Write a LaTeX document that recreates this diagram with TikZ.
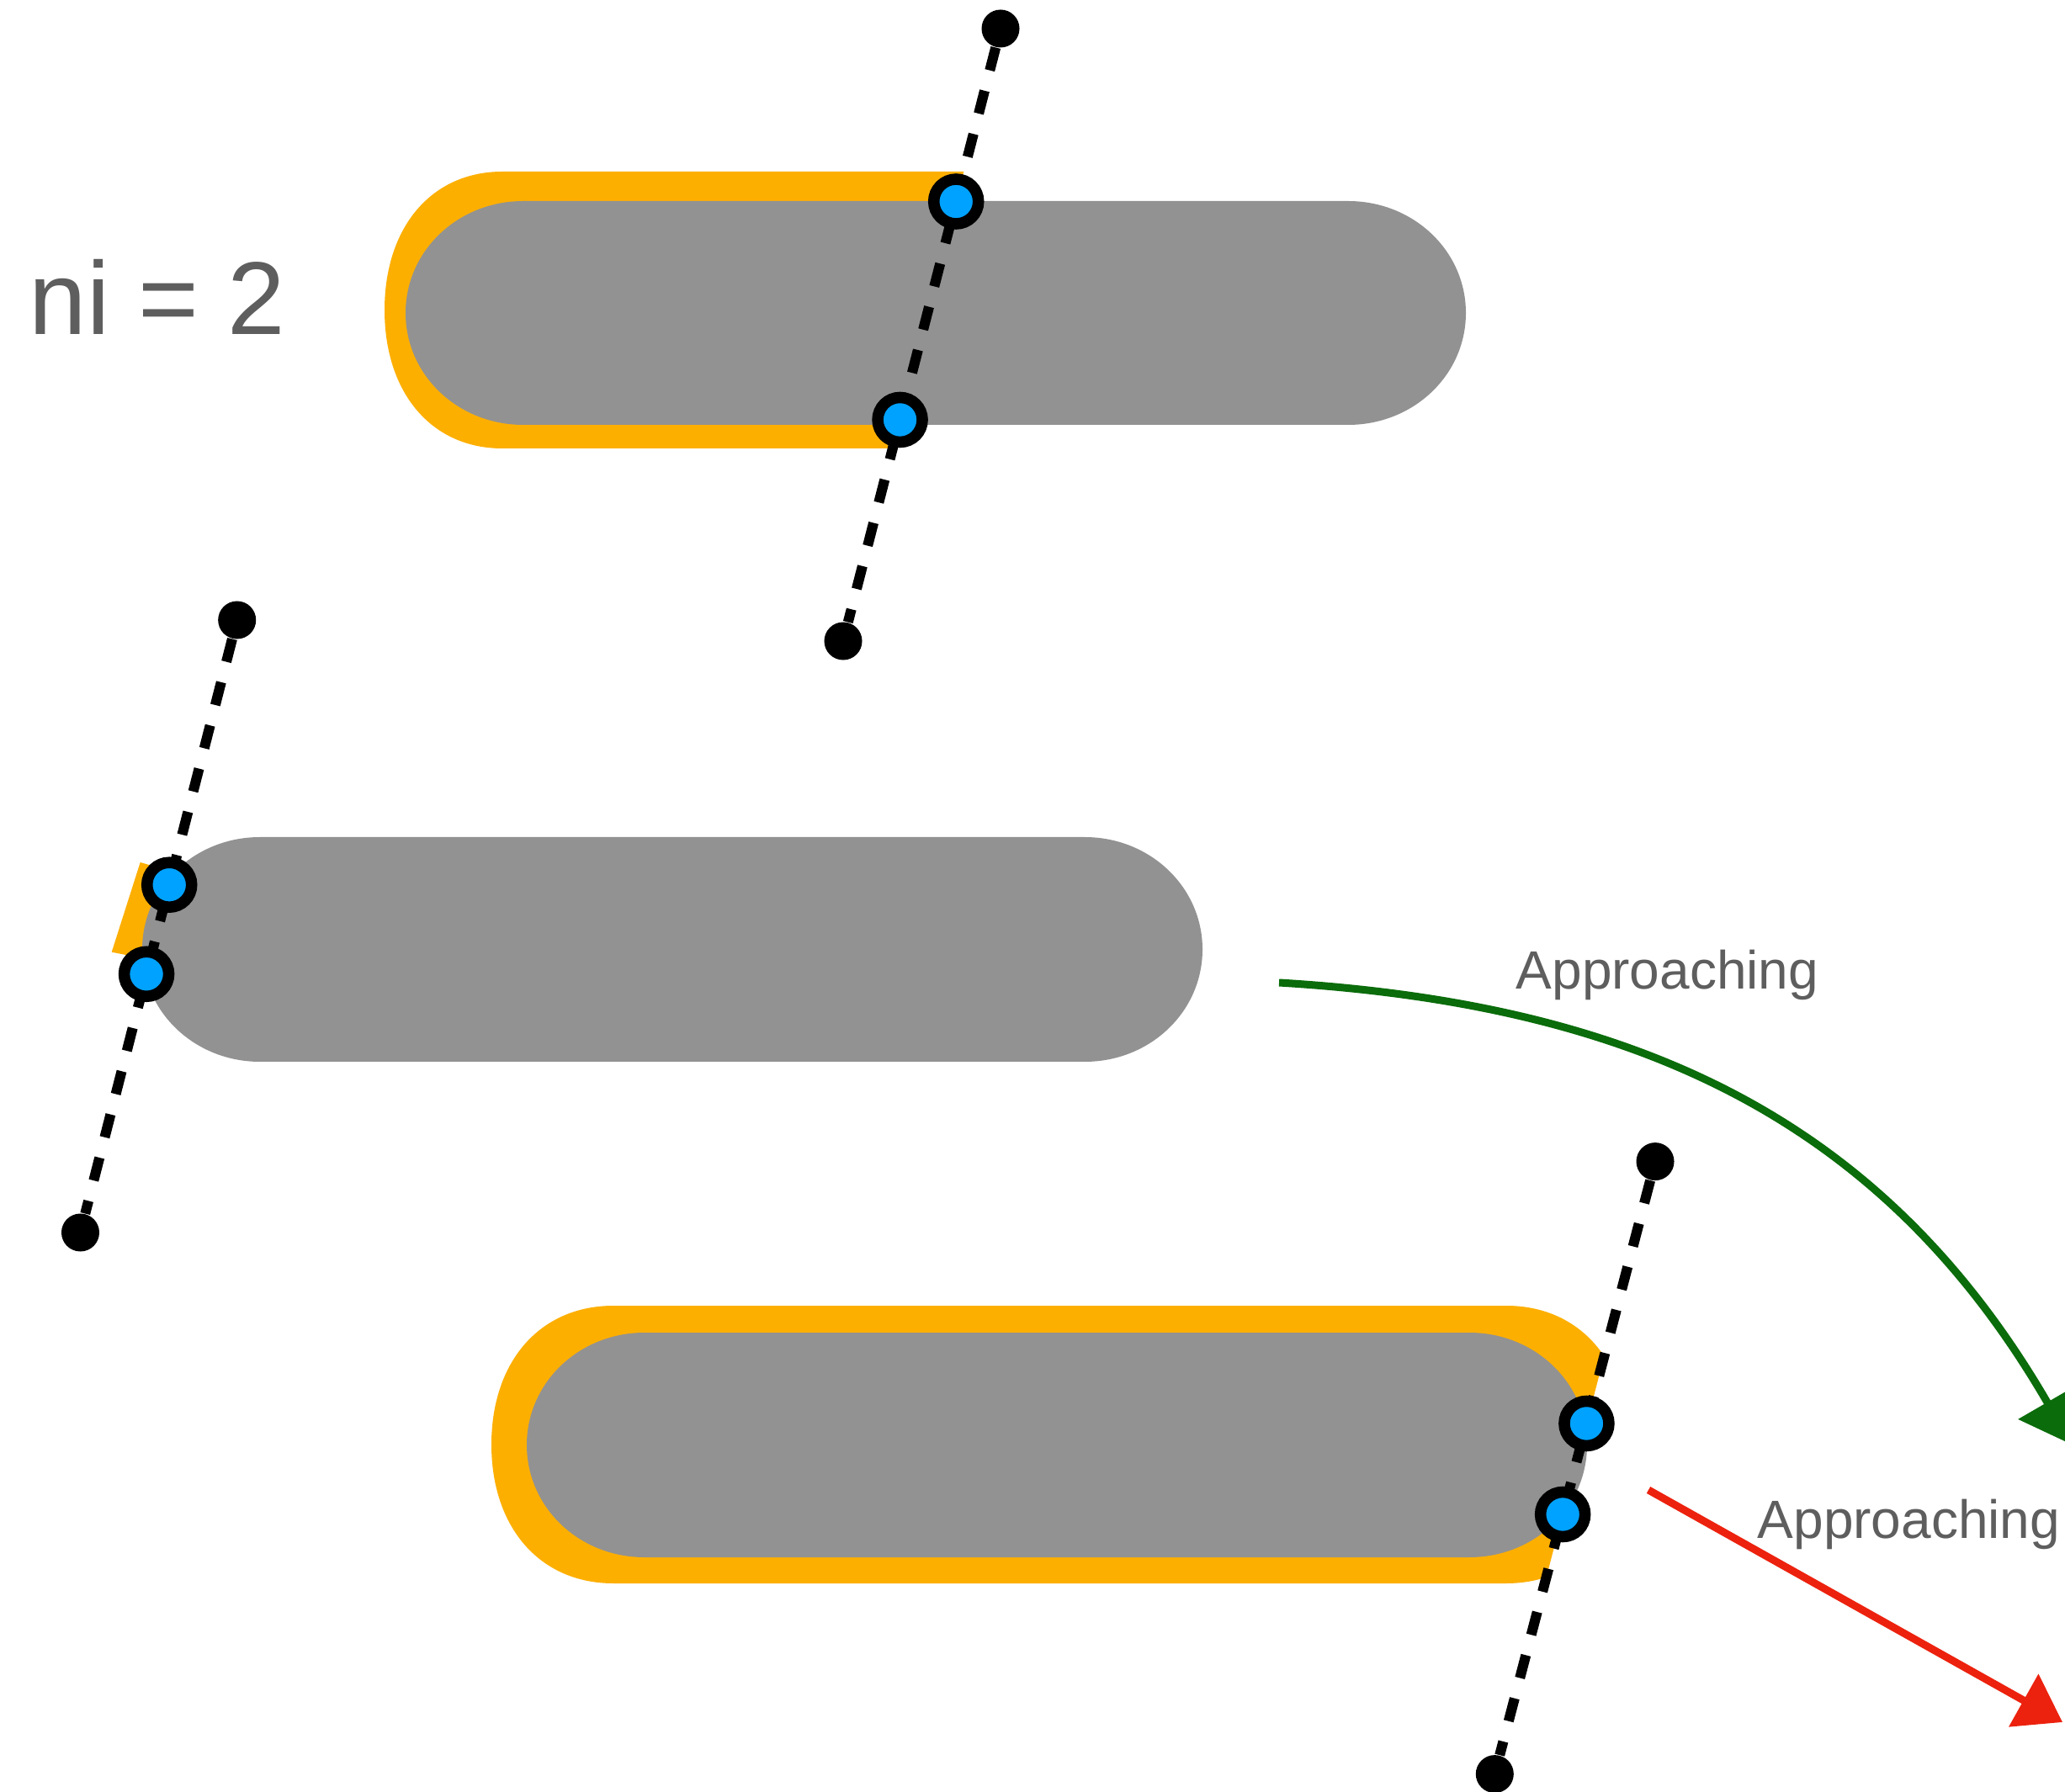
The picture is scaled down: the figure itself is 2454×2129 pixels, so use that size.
\documentclass[tikz,border=0pt]{standalone}
\usepackage{fontspec}
\setmainfont{Liberation Sans}
\usetikzlibrary{calc,arrows.meta}
\definecolor{capgray}{RGB}{146,146,146}
\definecolor{hiorange}{RGB}{253,175,0}
\definecolor{dotblue}{RGB}{0,162,255}
\definecolor{txtgray}{RGB}{94,94,94}
\definecolor{arrgreen}{RGB}{10,108,10}
\definecolor{arrred}{RGB}{236,34,14}
% #1 left, #2 top, #3 right, #4 bottom, #5 horizontal corner extent, #6 curve factor
\newcommand\capsulepath[6]{({#1+#5},#2) -- ({#3-#5},#2)
  .. controls ({#3-#5+#6*#5},#2) and (#3,{(#2+#4)/2+#6*(#2-#4)/2}) .. (#3,{(#2+#4)/2})
  .. controls (#3,{(#2+#4)/2-#6*(#2-#4)/2}) and ({#3-#5+#6*#5},#4) .. ({#3-#5},#4)
  -- ({#1+#5},#4)
  .. controls ({#1+#5-#6*#5},#4) and (#1,{(#2+#4)/2-#6*(#2-#4)/2}) .. (#1,{(#2+#4)/2})
  .. controls (#1,{(#2+#4)/2+#6*(#2-#4)/2}) and ({#1+#5-#6*#5},#2) .. cycle}
\tikzset{
  enddot/.style={circle,fill=black,inner sep=0pt,minimum size=0.45cm},
  bluedot/.style={circle,fill=dotblue,draw=black,line width=0.135cm,inner sep=0pt,minimum size=0.53cm},
  dashline/.style={line width=0.12cm,dash pattern=on 0.28cm off 0.25cm},
  lbl/.style={text=txtgray,inner sep=0pt},
  greenarrow/.style={arrgreen,line width=0.09cm,-{Triangle[length=0.58cm,width=0.78cm]}},
  redarrow/.style={arrred,line width=0.09cm,-{Triangle[length=0.53cm,width=0.70cm]}}
}
\begin{document}
\begin{tikzpicture}[x=0.01cm,y=0.01cm]
\useasboundingbox (0,0) rectangle (2454,2129);
\fill[white] (0,0) rectangle (2454,2129);
% orange highlights
\begin{scope}
  \clip (0,0) -- (650.9,0) -- (1197.7,2129) -- (0,2129) -- cycle;
  \fill[hiorange] \capsulepath{457}{1925}{1770}{1596}{140}{0.6};
\end{scope}
\begin{scope}
  \clip (0,0) -- (1771,0) -- (2032.9,1000) -- (0,1000) -- cycle;
  \fill[hiorange] \capsulepath{584}{577}{1935}{247}{145}{0.6};
\end{scope}
\fill[hiorange] (166.7,1104) -- (205,1093) -- (175,989) -- (132.7,997.3) -- cycle;
% gray capsules
\fill[capgray] \capsulepath{482}{1890}{1742}{1624}{140}{0.555};
\fill[capgray] \capsulepath{169}{1134}{1429}{867}{140}{0.555};
\fill[capgray] \capsulepath{626}{545}{1886}{278}{140}{0.555};
% end points
\node[enddot] (e1a) at (1189,2095) {};
\node[enddot] (e1b) at (1002,1367) {};
\node[enddot] (e2a) at (281.7,1392) {};
\node[enddot] (e2b) at (95.5,664) {};
\node[enddot] (e3a) at (1967,748.4) {};
\node[enddot] (e3b) at (1776.3,20.4) {};
% dashed lines
\draw[dashline] (e1a) -- (e1b);
\draw[dashline] (e2a) -- (e2b);
\draw[dashline] (e3a) -- (e3b);
% intersection dots
\node[bluedot] (b1a) at ($(e1a)!0.2823!(e1b)$) {};
\node[bluedot] (b1b) at ($(e1a)!0.6387!(e1b)$) {};
\node[bluedot] (b2a) at ($(e2a)!0.4323!(e2b)$) {};
\node[bluedot] (b2b) at ($(e2a)!0.578!(e2b)$) {};
\node[bluedot] (b3a) at ($(e3a)!0.4277!(e3b)$) {};
\node[bluedot] (b3b) at ($(e3a)!0.5761!(e3b)$) {};
% labels
\node[lbl,anchor=base west,font=\fontsize{35}{42}\selectfont] (ni) at (34,1731) {ni = 2};
\node[lbl,anchor=base west,font=\fontsize{18.2}{22}\selectfont] (ap1) at (1801,953) {Approaching};
\node[lbl,anchor=base west,font=\fontsize{18.2}{22}\selectfont] (ap2) at (2088,301) {Approaching};
% arrows
\coordinate (g0) at (1520,961);
\coordinate (g1) at (1950,935);
\coordinate (g2) at (2240,795);
\coordinate (g3) at (2462,412);
\draw[greenarrow] (g0) .. controls (g1) and (g2) .. (g3);
\coordinate (r0) at (1959,358);
\coordinate (r1) at (2451,82);
\draw[redarrow] (r0) -- (r1);
\end{tikzpicture}
\end{document}
